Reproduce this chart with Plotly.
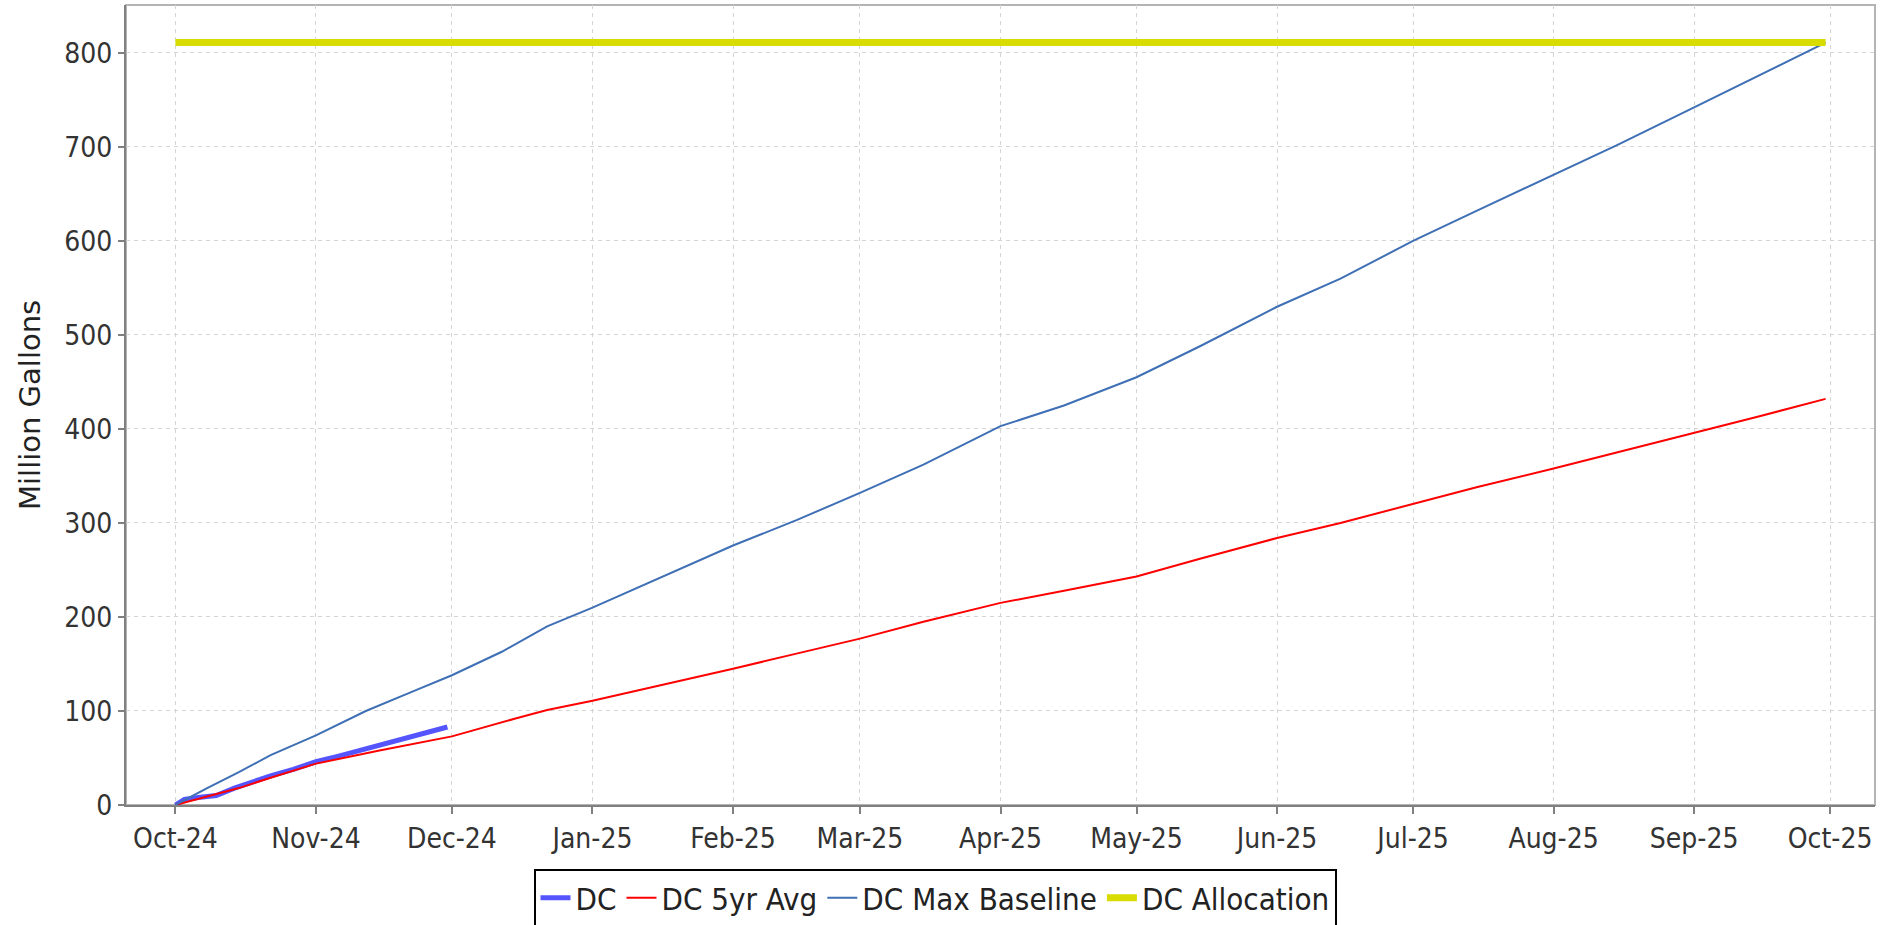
import plotly.graph_objects as go

# ---------------- data ----------------
dc_dates = ["2024-10-01", "2024-10-03", "2024-10-06", "2024-10-10", "2024-10-14",
            "2024-10-18", "2024-10-22", "2024-10-27", "2024-11-01", "2024-11-06",
            "2024-11-12", "2024-11-18", "2024-11-24", "2024-11-30"]
dc_values = [0, 6, 8, 10, 18, 25, 31, 38, 46, 52, 60, 67, 75, 83]

avg_dates = ["2024-10-01", "2024-10-08", "2024-10-15", "2024-10-22", "2024-11-01",
             "2024-11-15", "2024-12-01", "2024-12-15", "2024-12-22", "2025-01-01",
             "2025-01-15", "2025-02-01", "2025-02-15", "2025-03-01", "2025-03-15",
             "2025-04-01", "2025-04-15", "2025-05-01", "2025-05-15", "2025-06-01",
             "2025-06-15", "2025-07-01", "2025-07-15", "2025-08-01", "2025-08-15",
             "2025-09-01", "2025-09-15", "2025-09-30"]
avg_values = [0, 9, 18, 29, 44, 58, 73, 92, 101, 111, 126, 145, 161, 177, 195,
              215, 228, 243, 262, 284, 300, 320, 338, 358, 375, 396, 413, 432]

max_dates = ["2024-10-01", "2024-10-08", "2024-10-15", "2024-10-22", "2024-11-01",
             "2024-11-12", "2024-11-22", "2024-12-01", "2024-12-12", "2024-12-22",
             "2025-01-01", "2025-01-15", "2025-02-01", "2025-02-15", "2025-03-01",
             "2025-03-15", "2025-04-01", "2025-04-15", "2025-05-01", "2025-05-15",
             "2025-06-01", "2025-06-15", "2025-07-01", "2025-07-15", "2025-08-01",
             "2025-08-15", "2025-09-01", "2025-09-15", "2025-09-30"]
max_values = [0, 18, 35, 53, 74, 100, 120, 138, 163, 190, 210, 240, 276, 303, 332,
              362, 403, 425, 455, 488, 530, 560, 600, 632, 670, 702, 742, 775, 811]

alloc_dates = ["2024-10-01", "2025-09-30"]
alloc_values = [811, 811]

tick_dates = ["2024-10-01", "2024-11-01", "2024-12-01", "2025-01-01", "2025-02-01",
              "2025-03-01", "2025-04-01", "2025-05-01", "2025-06-01", "2025-07-01",
              "2025-08-01", "2025-09-01", "2025-10-01"]
tick_labels = ["Oct-24", "Nov-24", "Dec-24", "Jan-25", "Feb-25", "Mar-25", "Apr-25",
               "May-25", "Jun-25", "Jul-25", "Aug-25", "Sep-25", "Oct-25"]
y_ticks = [0, 100, 200, 300, 400, 500, 600, 700, 800]

FONT = "DejaVu Sans Condensed, DejaVu Sans, sans-serif"
TITLE_FONT = "DejaVu Sans, sans-serif"

W, H = 1892, 925
ML, MR, MT, MB = 126, 17, 5, 120
PW = W - ML - MR

fig = go.Figure()
fig.add_trace(go.Scatter(x=dc_dates, y=dc_values, mode="lines", name="DC",
                         line=dict(color="#5555ff", width=5)))
fig.add_trace(go.Scatter(x=avg_dates, y=avg_values, mode="lines", name="DC 5yr Avg",
                         line=dict(color="#ff0000", width=2)))
fig.add_trace(go.Scatter(x=max_dates, y=max_values, mode="lines", name="DC Max Baseline",
                         line=dict(color="#3f6fb5", width=2)))
fig.add_trace(go.Scatter(x=alloc_dates, y=alloc_values, mode="lines", name="DC Allocation",
                         line=dict(color="#d8dc00", width=7)))

# light border around the plot area (top / right)
fig.add_shape(type="rect", xref="paper", yref="paper", x0=0, y0=0, x1=1, y1=1,
              line=dict(color="#b4b4b4", width=2), layer="below")

# y-axis title
fig.add_annotation(text="Million Gallons", xref="paper", yref="paper",
                   x=(30 - ML) / PW, y=0.5, xanchor="center", yanchor="middle",
                   textangle=-90, showarrow=False,
                   font=dict(family=TITLE_FONT, size=29, color="#222222"))

fig.update_layout(
    width=W, height=H,
    margin=dict(l=ML, r=MR, t=MT, b=MB, autoexpand=False),
    paper_bgcolor="white", plot_bgcolor="white",
    font=dict(family=FONT, size=28, color="#333333"),
    showlegend=True,
    legend=dict(orientation="h", x=(935 - ML) / PW, xanchor="center",
                y=-0.08, yanchor="top",
                bordercolor="black", borderwidth=2, bgcolor="white",
                font=dict(family=FONT, size=31, color="#222222"),
                itemwidth=30, tracegroupgap=0),
)
fig.update_xaxes(
    type="date", automargin=False,
    range=["2024-09-20 02:24", "2025-10-10 21:36"],
    tickmode="array", tickvals=tick_dates, ticktext=tick_labels,
    ticks="outside", ticklen=7, tickcolor="#808080", tickwidth=2,
    showline=True, linecolor="#808080", linewidth=2,
    showgrid=True, gridcolor="#d4d4d4", gridwidth=1, griddash="4px,4px",
    zeroline=False, tickfont=dict(family=FONT, size=28, color="#333333"),
    fixedrange=True,
)
fig.update_yaxes(
    automargin=False,
    range=[0, 851],
    tickmode="array", tickvals=y_ticks,
    ticks="outside", ticklen=6, tickcolor="#808080", tickwidth=2,
    showline=True, linecolor="#808080", linewidth=2,
    showgrid=True, gridcolor="#d4d4d4", gridwidth=1, griddash="4px,4px",
    zeroline=False, tickfont=dict(family=FONT, size=28, color="#333333"),
    fixedrange=True,
)

fig.write_html("out.html", config={"displayModeBar": False},
               post_script="document.body.style.margin='0';document.body.style.overflow='hidden';")
